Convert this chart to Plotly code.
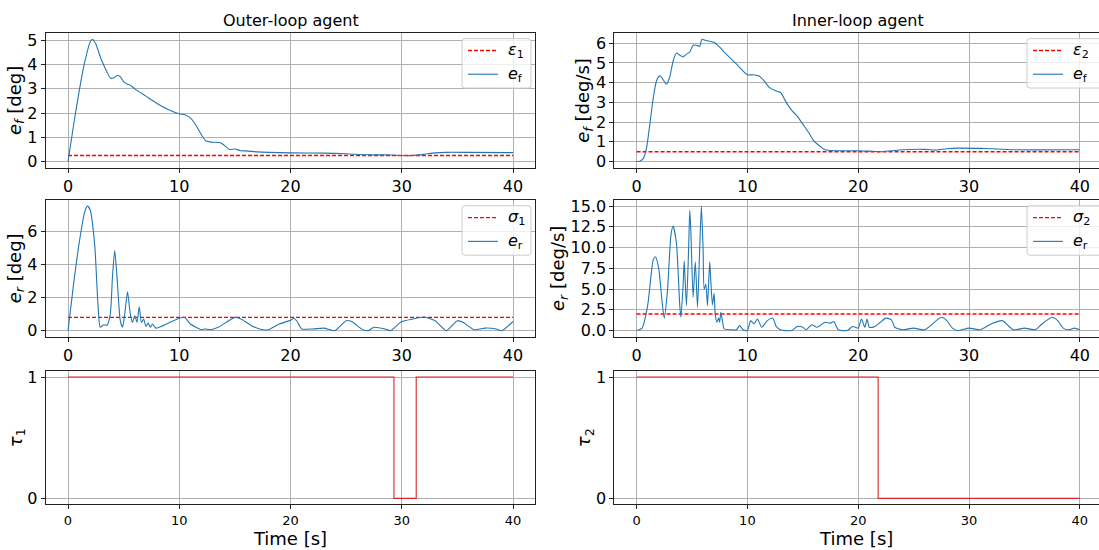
import plotly.graph_objects as go

# ---------------- data ----------------
# Outer-loop agent: filtered error e_f [deg]
t_of = [0, 0.5, 1, 1.5, 2, 2.2, 2.5, 3, 3.5, 3.8, 4.1, 4.4, 4.7, 5, 5.3, 5.6, 6, 7, 8, 9, 10,
        10.5, 11, 11.5, 12, 12.4, 13, 13.7, 14.1, 14.5, 15, 15.5, 16, 17, 18, 20, 23, 25, 27,
        29, 30, 31, 32, 33, 34, 36, 40]
e_of = [0, 1.5, 2.9, 4.1, 4.95, 5.05, 4.85, 4.2, 3.7, 3.45, 3.45, 3.55, 3.5, 3.3, 3.2, 3.15, 3.0,
        2.7, 2.4, 2.15, 1.97, 1.93, 1.8, 1.5, 1.1, 0.85, 0.8, 0.78, 0.65, 0.5, 0.52, 0.45, 0.44,
        0.4, 0.38, 0.36, 0.35, 0.32, 0.28, 0.27, 0.25, 0.25, 0.3, 0.36, 0.38, 0.38, 0.37]
eps1 = 0.25

# Inner-loop agent: filtered error e_f [deg/s]
t_if = [0, 0.3, 0.6, 0.9, 1.2, 1.5, 1.8, 2.1, 2.4, 2.7, 3.0, 3.3, 3.6, 3.9, 4.2, 4.5, 4.8, 5.1,
        5.4, 5.7, 5.9, 6.2, 6.6, 7, 7.5, 8, 9, 10, 10.5, 11, 11.5, 12, 12.5, 13, 13.5, 14, 14.5,
        15, 15.5, 16, 16.5, 17, 18, 20, 21, 22, 23, 24, 26, 27, 28, 29, 31, 32, 34, 40]
e_if = [0, 0.02, 0.15, 0.7, 1.9, 3.2, 4.1, 4.35, 4.15, 3.92, 4.3, 5.1, 5.5, 5.4, 5.3, 5.45, 5.55,
        5.9, 5.9, 5.85, 6.2, 6.15, 6.1, 6.05, 5.8, 5.5, 4.95, 4.4, 4.4, 4.35, 4.1, 3.75, 3.6, 3.5,
        3.0, 2.6, 2.3, 1.9, 1.5, 1.05, 0.8, 0.6, 0.55, 0.55, 0.53, 0.5, 0.55, 0.6, 0.62, 0.58,
        0.65, 0.68, 0.67, 0.65, 0.6, 0.6]
eps2 = 0.5

# Outer-loop agent: raw error e_r [deg]
t_or = [0, 0.5, 1, 1.5, 1.75, 2, 2.4, 2.7, 2.9, 3.2, 3.5, 3.8, 4.0, 4.2, 4.4, 4.7, 4.9, 5.1, 5.35,
        5.6, 5.8, 6.0, 6.2, 6.4, 6.6, 6.8, 7.0, 7.2, 7.4, 7.6, 7.9, 9, 10, 10.5, 11, 12, 12.3,
        12.8, 13.5, 15, 15.5, 16.5, 17.5, 18, 19, 20, 20.3, 20.6, 21, 22, 23, 24, 25, 25.5, 26.5,
        27, 27.5, 28.5, 29, 30, 31, 32, 33, 34, 35, 35.5, 36.5, 37, 37.5, 38.5, 39, 40]
e_or = [0, 2.8, 5.3, 7.2, 7.55, 7.3, 5.2, 1.5, 0.2, 0.35, 0.32, 1.0, 3.3, 4.85, 3.3, 0.6, 0.2,
        1.0, 2.35, 1.0, 0.5, 0.9, 0.5, 1.45, 0.5, 0.7, 0.25, 0.45, 0.2, 0.4, 0.15, 0.45, 0.75,
        0.8, 0.4, 0.05, 0.1, 0.05, 0.2, 0.8, 0.72, 0.3, 0.05, 0.05, 0.4, 0.62, 0.75, 0.55, 0.1,
        0.1, 0.15, 0.0, 0.6, 0.55, 0.05, 0.0, 0.2, 0.1, 0.0, 0.55, 0.7, 0.82, 0.6, 0.0, 0.6, 0.5,
        0.05, 0.1, 0.15, 0.1, 0.0, 0.55]
sig1 = 0.8

# Inner-loop agent: raw error e_r [deg/s]
t_ir = [0, 0.5, 1, 1.5, 1.7, 2, 2.3, 2.5, 2.8, 3.1, 3.3, 3.6, 3.9, 4.0, 4.2, 4.3, 4.5, 4.7, 4.8,
        4.9, 5.1, 5.3, 5.5, 5.7, 5.85, 6.0, 6.1, 6.25, 6.4, 6.6, 6.7, 6.85, 7.0, 7.1, 7.25, 7.4,
        7.5, 7.6, 7.75, 7.9, 8.5, 9, 9.3, 9.6, 10, 10.3, 10.6, 10.9, 11.3, 11.8, 12.3, 12.6, 13,
        14, 14.5, 15, 15.3, 15.8, 16.3, 17, 17.5, 17.8, 18.2, 19, 19.5, 20, 20.3, 20.6, 20.8, 21,
        21.5, 22, 22.5, 23, 23.3, 24, 25, 26, 27.5, 28, 28.5, 29, 30, 31, 32, 33, 34, 35, 36,
        36.5, 37.5, 38, 38.5, 39, 39.5, 40]
e_ir = [0, 0.3, 3, 8.5, 8.9, 7.5, 3.5, 1.5, 5, 11.5, 12.6, 10.5, 3, 1.6, 5.5, 8.4, 3, 10, 14.5,
        12, 4, 8.3, 2.8, 10, 15.0, 10, 5, 5.6, 3, 8.3, 6, 3.1, 4.5, 2, 1.0, 1.5, 1.0, 2.2, 1.2,
        0.2, 0.1, 0.1, 0.6, 0.1, 0.0, 1.2, 0.8, 1.4, 0.4, 1.2, 1.5, 0.5, 0.1, 0.0, 0.5, 0.4, 0.1,
        0.7, 0.4, 1.0, 0.9, 1.1, 0.1, 0.0, 0.5, 0.3, 1.4, 0.4, 1.4, 0.4, 0.5, 1.0, 1.5, 1.3, 0.4,
        0.1, 0.3, 0.1, 1.6, 1.2, 0.3, 0.0, 0.3, 0.1, 0.8, 1.2, 0.1, 0.3, 0.1, 0.7, 1.6, 1.2, 0.3,
        0.1, 0.3, 0.1]
sig2 = 2.0

# Triggering flags tau (step signals)
t_tau1 = [0, 29.3, 31.3, 40]
tau1 = [1, 0, 1, 1]
t_tau2 = [0, 21.8, 40]
tau2 = [1, 0, 0]

t_end = 40

# ---------------- styling ----------------
BLUE = "#1f77b4"
RED = "#ff0000"
TAU_RED = "#d62728"
FONT = "DejaVu Sans"
GRID = "#b0b0b0"
SPINE = "#222222"
W, H = 1099, 550
THR_W = 1.4
E_W = 1.1

def px_x(a, b):
    return [a / W, b / W]

def px_y(top, bottom):
    return [1 - bottom / H, 1 - top / H]

xdom_l = px_x(45.75, 535.25)
xdom_r = [614.4 / W, 1.0]
ydom = [px_y(30.5, 166.5), px_y(199, 337.5), px_y(372, 507)]

fig = go.Figure()

def add_pair(xa, ya, t, e, thr):
    fig.add_trace(go.Scatter(x=[0, t_end], y=[thr, thr], mode="lines", showlegend=False,
                             line=dict(color=RED, width=THR_W, dash="4px,2px"),
                             xaxis=xa, yaxis=ya))
    fig.add_trace(go.Scatter(x=t, y=e, mode="lines", showlegend=False,
                             line=dict(color=BLUE, width=E_W, shape="spline", smoothing=0.6),
                             xaxis=xa, yaxis=ya))

add_pair("x", "y", t_of, e_of, eps1)
add_pair("x2", "y2", t_if, e_if, eps2)
add_pair("x3", "y3", t_or, e_or, sig1)
add_pair("x4", "y4", t_ir, e_ir, sig2)

fig.add_trace(go.Scatter(x=t_tau1, y=tau1, mode="lines", showlegend=False,
                         line=dict(color=TAU_RED, width=1.1, shape="hv"), xaxis="x5", yaxis="y5"))
fig.add_trace(go.Scatter(x=t_tau2, y=tau2, mode="lines", showlegend=False,
                         line=dict(color=TAU_RED, width=1.1, shape="hv"), xaxis="x6", yaxis="y6"))

def xaxis(dom, anchor, rng, tick_size, title=None):
    d = dict(domain=dom, anchor=anchor, range=rng, tickvals=[0, 10, 20, 30, 40],
             showgrid=True, gridcolor=GRID, gridwidth=0.8, zeroline=False,
             showline=True, linecolor=SPINE, linewidth=1, mirror=True,
             ticks="outside", ticklen=4, tickcolor=SPINE,
             tickfont=dict(size=tick_size, color="#000"))
    if title:
        d["title"] = dict(text=title, font=dict(size=18, color="#000"), standoff=0)
    return d

def yaxis(dom, anchor, rng, tickvals, ticktext, title, right_col):
    return dict(domain=dom, anchor=anchor, range=rng, tickvals=tickvals, ticktext=ticktext,
                showgrid=True, gridcolor=GRID, gridwidth=0.8, zeroline=False,
                showline=True, linecolor=SPINE, linewidth=1, mirror=not right_col,
                ticks="outside", ticklen=4, tickcolor=SPINE,
                tickfont=dict(size=16, color="#000"),
                title=dict(text=title, font=dict(size=18, color="#000"), standoff=0))

xr_l = [-2, 42]
xr_r = [-2, 41.73]

layout = dict(
    width=W, height=H, margin=dict(l=0, r=0, t=0, b=0),
    paper_bgcolor="white", plot_bgcolor="white",
    font=dict(family=FONT, color="#000"),
    showlegend=False,
    xaxis=xaxis(xdom_l, "y", xr_l, 16),
    xaxis2=xaxis(xdom_r, "y2", xr_r, 16),
    xaxis3=xaxis(xdom_l, "y3", xr_l, 16),
    xaxis4=xaxis(xdom_r, "y4", xr_r, 16),
    xaxis5=xaxis(xdom_l, "y5", xr_l, 13, "Time [s]"),
    xaxis6=xaxis(xdom_r, "y6", xr_r, 13, "Time [s]"),
    yaxis=yaxis(ydom[0], "x", [-0.2525, 5.3], [0, 1, 2, 3, 4, 5], None,
                "<i>e<sub>f</sub></i> [deg]", False),
    yaxis2=yaxis(ydom[0], "x2", [-0.31, 6.51], [0, 1, 2, 3, 4, 5, 6], None,
                 "<i>e<sub>f</sub></i> [deg/s]", True),
    yaxis3=yaxis(ydom[1], "x3", [-0.378, 7.93], [0, 2, 4, 6], None,
                 "<i>e<sub>r</sub></i> [deg]", False),
    yaxis4=yaxis(ydom[1], "x4", [-0.75, 15.75], [0, 2.5, 5, 7.5, 10, 12.5, 15],
                 ["0.0", "2.5", "5.0", "7.5", "10.0", "12.5", "15.0"],
                 "<i>e<sub>r</sub></i> [deg/s]", True),
    yaxis5=yaxis(ydom[2], "x5", [-0.05, 1.05], [0, 1], None, "<i>τ</i><sub>1</sub>", False),
    yaxis6=yaxis(ydom[2], "x6", [-0.05, 1.05], [0, 1], None, "<i>τ</i><sub>2</sub>", True),
)

# ---- legend boxes (drawn as shapes + text, matplotlib style) ----
shapes = []
annotations = []

def rounded_rect(x0, y0, x1, y1, r=3):
    X = lambda v: v / W
    Y = lambda v: 1 - v / H
    return (f"M {X(x0 + r)},{Y(y0)} L {X(x1 - r)},{Y(y0)} Q {X(x1)},{Y(y0)} {X(x1)},{Y(y0 + r)} "
            f"L {X(x1)},{Y(y1 - r)} Q {X(x1)},{Y(y1)} {X(x1 - r)},{Y(y1)} "
            f"L {X(x0 + r)},{Y(y1)} Q {X(x0)},{Y(y1)} {X(x0)},{Y(y1 - r)} "
            f"L {X(x0)},{Y(y0 + r)} Q {X(x0)},{Y(y0)} {X(x0 + r)},{Y(y0)} Z")

def legend_box(x0, x1, top, labels):
    bottom = top + 50
    shapes.append(dict(type="path", path=rounded_rect(x0, top, x1, bottom), xref="paper",
                       yref="paper", fillcolor="rgba(255,255,255,0.8)",
                       line=dict(color="#cccccc", width=1), layer="above"))
    rows = [top + 12, top + 36]
    styles = [dict(color=RED, width=THR_W, dash="4px,2px"), dict(color=BLUE, width=E_W)]
    for yy, lab, st in zip(rows, labels, styles):
        shapes.append(dict(type="line", x0=(x0 + 6) / W, x1=(x0 + 36) / W,
                           y0=1 - yy / H, y1=1 - yy / H, xref="paper", yref="paper",
                           line=st, layer="above"))
        annotations.append(dict(text=lab, x=(x0 + 44) / W, y=1 - yy / H, xref="paper",
                                yref="paper", showarrow=False, xanchor="left",
                                yanchor="middle", font=dict(size=16, color="#000")))

legend_box(462, 531, 36, ["<i>ε</i><sub>1</sub>", "<i>e</i><sub>f</sub>"])
legend_box(1027, 1110, 36, ["<i>ε</i><sub>2</sub>", "<i>e</i><sub>f</sub>"])
legend_box(462, 531, 205, ["<i>σ</i><sub>1</sub>", "<i>e</i><sub>r</sub>"])
legend_box(1027, 1110, 205, ["<i>σ</i><sub>2</sub>", "<i>e</i><sub>r</sub>"])

annotations += [
    dict(text="Outer-loop agent", x=(xdom_l[0] + xdom_l[1]) / 2, y=1 - 18 / H,
         xref="paper", yref="paper", showarrow=False, font=dict(size=16, color="#000"),
         xanchor="center", yanchor="middle"),
    dict(text="Inner-loop agent", x=858 / W, y=1 - 18 / H,
         xref="paper", yref="paper", showarrow=False, font=dict(size=16, color="#000"),
         xanchor="center", yanchor="middle"),
]

layout["shapes"] = shapes
layout["annotations"] = annotations

fig.update_layout(**layout)
fig.write_html("out.html")
